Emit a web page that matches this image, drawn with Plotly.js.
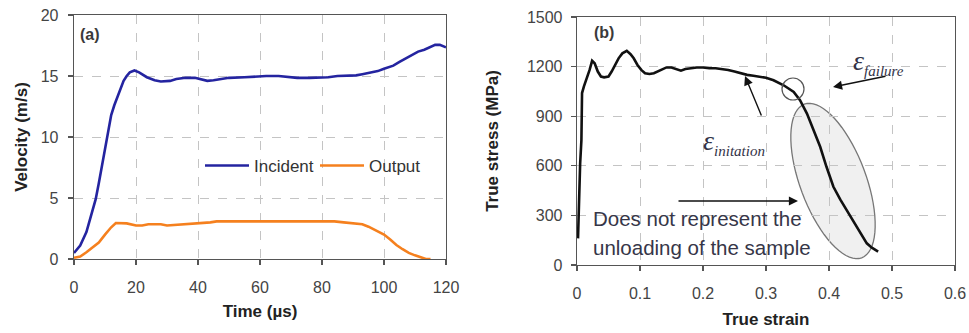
<!DOCTYPE html>
<html><head><meta charset="utf-8">
<script src="https://cdn.plot.ly/plotly-3.0.1.min.js"></script>
<style>html,body{margin:0;padding:0;background:#fff}#c{width:969px;height:333px}</style>
</head><body><div id="c"></div>
<script>
// Panel (a): velocity vs time
const incidentTime = [0,2,4,6,7,8,9,10,11,12,13,14,15,16,17,18,19.5,21,23.5,26,28,31,33,36,39,41,43,45,47,50,55,58,62,66,69,72,76,80,82,85,88,91,93,95.5,98,100,103,105,107,109,111,113,115,116.5,118,119,120];
const incidentVel = [0.5,1.1,2.2,4.0,4.9,6.2,7.6,9.3,10.6,11.8,12.6,13.3,14.0,14.6,15.0,15.3,15.45,15.3,14.9,14.65,14.55,14.6,14.75,14.85,14.85,14.7,14.6,14.65,14.75,14.85,14.9,14.95,15.0,15.0,14.95,14.85,14.85,14.85,14.9,15.0,15.05,15.05,15.15,15.25,15.4,15.6,15.85,16.15,16.45,16.75,17.0,17.15,17.4,17.55,17.55,17.45,17.35];
const outputTime = [0,2,4,6,8,10,12,13.5,17,20,22,24,28,30,33,36,40,44,46,58,70,84,87,90,93,95,97,100,102,104,106,108,110,112,113.5,115];
const outputVel = [0.1,0.2,0.55,0.95,1.35,2.0,2.6,2.95,2.92,2.75,2.75,2.85,2.85,2.75,2.8,2.9,2.95,3.0,3.08,3.08,3.08,3.08,3.0,2.95,2.85,2.65,2.4,2.0,1.6,1.15,0.8,0.5,0.3,0.1,0.0,0.0];
const seriesNames = ["Incident","Output"];
// Panel (b): true stress vs true strain
const trueStrain = [0.0016,0.003,0.005,0.007,0.008,0.011,0.016,0.02,0.024,0.028,0.033,0.038,0.043,0.05,0.055,0.061,0.066,0.072,0.079,0.085,0.09,0.096,0.102,0.108,0.115,0.122,0.128,0.135,0.142,0.15,0.158,0.165,0.172,0.18,0.19,0.2,0.21,0.22,0.23,0.24,0.25,0.26,0.27,0.28,0.29,0.3,0.312,0.328,0.344,0.354,0.365,0.375,0.386,0.396,0.407,0.418,0.428,0.436,0.444,0.452,0.46,0.468,0.478];
const trueStress = [161,433,614,755,1040,1080,1130,1180,1235,1220,1170,1140,1135,1140,1170,1210,1250,1280,1295,1275,1250,1210,1180,1160,1155,1160,1170,1180,1195,1195,1185,1175,1185,1190,1195,1195,1190,1190,1185,1180,1170,1160,1150,1145,1140,1132,1117,1087,1047,997,916,815,715,594,473,395,332,280,232,180,131,105,81];
const xTicksA = [0,20,40,60,80,100,120];
const yTicksA = [0,5,10,15,20];
const xTicksB = [0,0.1,0.2,0.3,0.4,0.5,0.6];
const yTicksB = [0,300,600,900,1200,1500];

const W = 969, H = 333;
// pixel geometry of panel b (for annotation shapes)
const bx0 = 577, bx1 = 955, by0 = 265, by1 = 17;
const pxToX = px => (px - bx0) / (bx1 - bx0) * 0.6;
const pxToY = py => (by0 - py) / (by0 - by1) * 1500;

// rotated ellipse path (pixel design -> data coords)
function ellipsePath(cx, cy, a, b, angDeg) {
  const t = angDeg * Math.PI / 180;
  let p = '';
  for (let i = 0; i <= 72; i++) {
    const u = i / 72 * 2 * Math.PI;
    const ex = b * Math.cos(u), ey = a * Math.sin(u);
    const px = cx + ex * Math.cos(t) - ey * Math.sin(t);
    const py = cy + ex * Math.sin(t) + ey * Math.cos(t);
    p += (i === 0 ? 'M' : 'L') + pxToX(px).toFixed(5) + ',' + pxToY(py).toFixed(2);
  }
  return p + 'Z';
}

const tickFont = {family: 'Arial, Liberation Sans, sans-serif', size: 16, color: '#444'};
const titleFont = {family: 'Arial, Liberation Sans, sans-serif', size: 17, color: '#222', weight: 'bold'};
const axBase = {
  showline: true, mirror: true, linecolor: '#555', linewidth: 1.3,
  ticks: 'outside', ticklen: 5, tickcolor: '#555', tickwidth: 1.2,
  showgrid: true, gridcolor: '#c4c4c4', griddash: 'dash', gridwidth: 1,
  zeroline: false, tickfont: tickFont, fixedrange: true
};

const traces = [
  {x: incidentTime, y: incidentVel, name: seriesNames[0], type: 'scatter', mode: 'lines',
   line: {color: '#2424a0', width: 2.6}, xaxis: 'x', yaxis: 'y'},
  {x: outputTime, y: outputVel, name: seriesNames[1], type: 'scatter', mode: 'lines',
   line: {color: '#f5801e', width: 2.6}, xaxis: 'x', yaxis: 'y'},
  {x: trueStrain, y: trueStress, name: 'stress', type: 'scatter', mode: 'lines', showlegend: false,
   line: {color: '#111', width: 2.6}, xaxis: 'x2', yaxis: 'y2'}
];

const layout = {
  width: W, height: H, margin: {l: 0, r: 0, t: 0, b: 0},
  paper_bgcolor: '#fff', plot_bgcolor: '#fff',
  showlegend: true,
  legend: {orientation: 'h', x: 200/W, xanchor: 'left', y: (H-166)/H, yanchor: 'middle',
           entrywidth: 56, entrywidthmode: 'pixels', itemwidth: 44,
           bgcolor: 'rgba(0,0,0,0)', font: {family: 'Arial, Liberation Sans, sans-serif', size: 17, color: '#333'}},
  xaxis: Object.assign({}, axBase, {domain: [74/W, 446/W], range: [0, 120], tickvals: xTicksA,
    ticklabelstandoff: 8, title: {text: 'Time (µs)', font: titleFont, standoff: 10}, anchor: 'y'}),
  yaxis: Object.assign({}, axBase, {domain: [(H-259)/H, (H-15)/H], range: [0, 20], tickvals: yTicksA,
    ticklabelstandoff: 6, title: {text: 'Velocity (m/s)', font: titleFont, standoff: 8}, anchor: 'x'}),
  xaxis2: Object.assign({}, axBase, {domain: [bx0/W, bx1/W], range: [0, 0.6], tickvals: xTicksB,
    ticklabelstandoff: 8, title: {text: 'True strain', font: titleFont, standoff: 12}, anchor: 'y2'}),
  yaxis2: Object.assign({}, axBase, {domain: [(H-by0)/H, (H-by1)/H], range: [0, 1500], tickvals: yTicksB,
    ticklabelstandoff: 5, title: {text: 'True stress (MPa)', font: titleFont, standoff: 24}, anchor: 'x2'}),
  shapes: [
    {type: 'path', xref: 'x2', yref: 'y2', path: ellipsePath(833, 181, 82, 33, -20.5),
     fillcolor: 'rgba(225,225,225,0.5)', line: {color: '#777', width: 1.3}, layer: 'below'},
    {type: 'circle', xref: 'x2', yref: 'y2', x0: pxToX(782), x1: pxToX(804), y0: pxToY(100), y1: pxToY(78),
     line: {color: '#555', width: 1.2}}
  ],
  annotations: [
    {text: '<b>(a)</b>', xref: 'paper', yref: 'paper', x: 90/W, y: (H-35)/H, xanchor: 'center', yanchor: 'middle',
     showarrow: false, font: {family: 'Arial, Liberation Sans, sans-serif', size: 16, color: '#3a3a3a'}},
    {text: '<b>(b)</b>', xref: 'paper', yref: 'paper', x: 604/W, y: (H-33)/H, xanchor: 'center', yanchor: 'middle',
     showarrow: false, font: {family: 'Arial, Liberation Sans, sans-serif', size: 16, color: '#3a3a3a'}},
    {text: "<i>ε</i><sub><i><span style='font-size:15px'>failure</span></i></sub>", xref: 'paper', yref: 'paper',
     x: 851/W, y: (H-62)/H, xanchor: 'left', yanchor: 'middle', showarrow: false,
     font: {family: 'Liberation Serif, DejaVu Serif, serif', size: 28, color: '#333348'}},
    {text: "<i>ε</i><sub><i><span style='font-size:15px'>initation</span></i></sub>", xref: 'paper', yref: 'paper',
     x: 701/W, y: (H-142)/H, xanchor: 'left', yanchor: 'middle', showarrow: false,
     font: {family: 'Liberation Serif, DejaVu Serif, serif', size: 28, color: '#333348'}},
    {text: 'Does not represent the', xref: 'paper', yref: 'paper', x: 591/W, y: (H-218)/H,
     xanchor: 'left', yanchor: 'middle', showarrow: false,
     font: {family: 'Arial, Liberation Sans, sans-serif', size: 20.5, color: '#363648'}},
    {text: 'unloading of the sample', xref: 'paper', yref: 'paper', x: 591/W, y: (H-247)/H,
     xanchor: 'left', yanchor: 'middle', showarrow: false,
     font: {family: 'Arial, Liberation Sans, sans-serif', size: 20.5, color: '#363648'}},
    // arrows
    {text: '', xref: 'x2', yref: 'y2', x: pxToX(833), y: pxToY(87), ax: 54, ay: -11, showarrow: true,
     arrowhead: 2, arrowsize: 1.3, arrowwidth: 1.4, arrowcolor: '#111'},
    {text: '', xref: 'x2', yref: 'y2', x: pxToX(745), y: pxToY(76), ax: 17, ay: 41, showarrow: true,
     arrowhead: 2, arrowsize: 1.3, arrowwidth: 1.4, arrowcolor: '#111'},
    {text: '', xref: 'x2', yref: 'y2', x: pxToX(798), y: pxToY(201), ax: -121, ay: 0, showarrow: true,
     arrowhead: 2, arrowsize: 1.3, arrowwidth: 1.4, arrowcolor: '#111'}
  ]
};

Plotly.newPlot('c', traces, layout, {staticPlot: true, displayModeBar: false});
</script>
</body></html>
